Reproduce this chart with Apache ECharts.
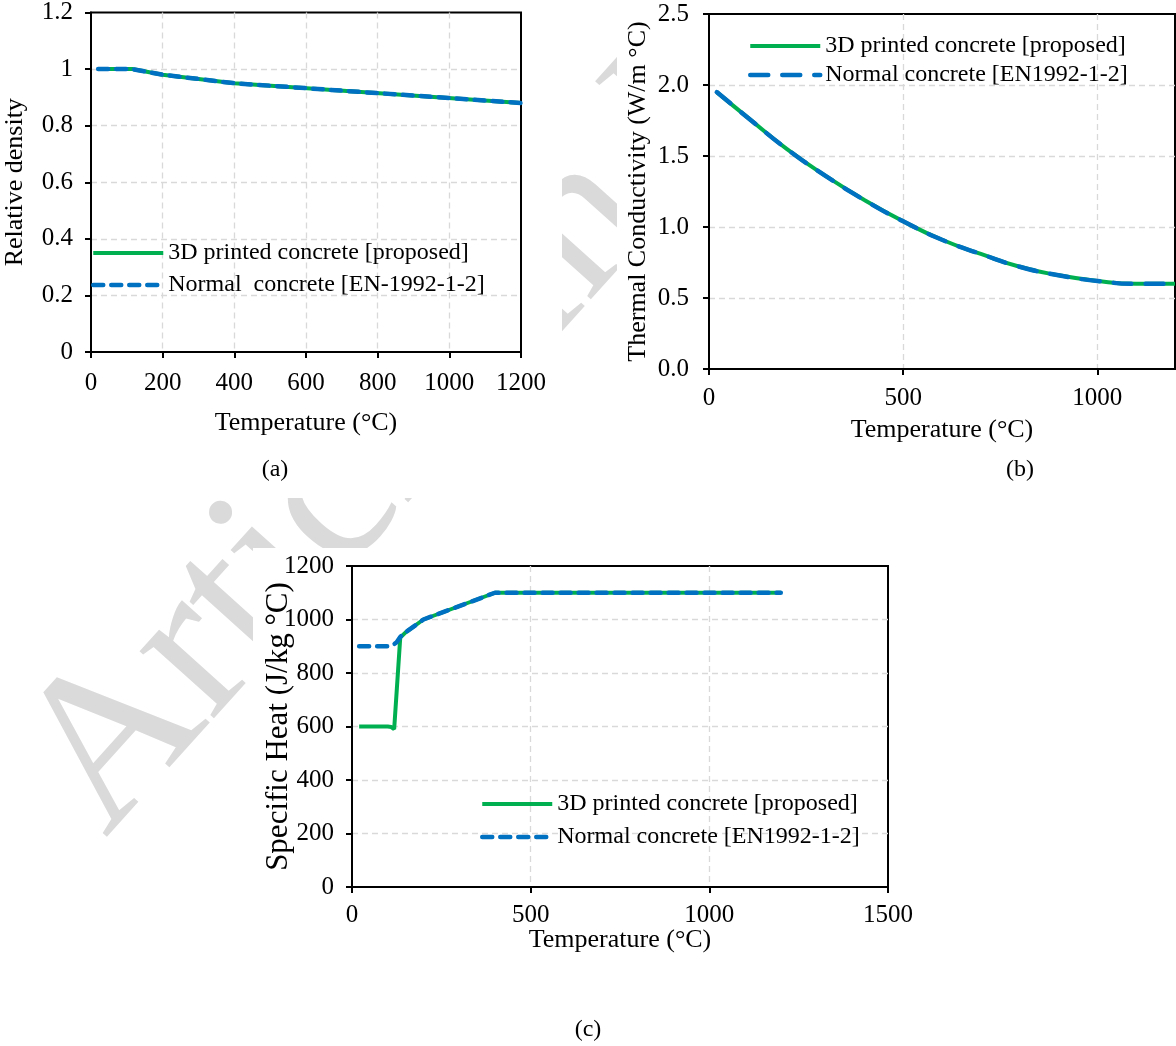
<!DOCTYPE html>
<html>
<head>
<meta charset="utf-8">
<script src="https://cdn.jsdelivr.net/npm/echarts@6/dist/echarts.min.js"></script>
<style>
html,body{margin:0;padding:0;background:#fff;}
#chart{width:1176px;height:1046px;}
</style>
</head>
<body>
<div id="chart"></div>
<script>
// ---------- data ----------
const NAME_3D = '3D printed concrete [proposed]';
const NAME_NC_A = 'Normal  concrete [EN-1992-1-2]';
const NAME_NC = 'Normal concrete [EN1992-1-2]';

// (a) relative density
const densityTemp = [20, 115, 200, 400, 1200];
const density3D   = [1.0, 1.0, 0.98, 0.95, 0.88];
const densityNC   = [1.0, 1.0, 0.98, 0.95, 0.88];

// (b) thermal conductivity
const condTemp = [20, 100, 200, 300, 400, 500, 600, 700, 800, 900, 1000, 1100, 1200];
const cond3D   = [1.95, 1.77, 1.55, 1.36, 1.19, 1.04, 0.91, 0.81, 0.72, 0.66, 0.62, 0.60, 0.60];
const condNC   = [1.95, 1.77, 1.55, 1.36, 1.19, 1.04, 0.91, 0.81, 0.72, 0.66, 0.62, 0.60, 0.60];

// (c) specific heat
const heatTemp3D = [20, 100, 110, 118, 135, 150, 200, 400, 1200];
const heat3D     = [600, 600, 598, 590, 932, 952, 1000, 1100, 1100];
const heatTempNC = [20, 100, 115, 125, 135, 150, 200, 400, 1200];
const heatNC     = [900, 900, 905, 915, 935, 952, 1000, 1100, 1100];

// tick settings
const xTicksA = {min: 0, max: 1200, interval: 200};
const yTicksA = {min: 0, max: 1.2, interval: 0.2};
const xTicksB = {min: 0, max: 1200, interval: 500};
const yTicksB = {min: 0, max: 2.5, interval: 0.5};
const xTicksC = {min: 0, max: 1500, interval: 500};
const yTicksC = {min: 0, max: 1200, interval: 200};

// ---------- styling ----------
const FONT = '"Liberation Serif", "Times New Roman", serif';
const GREEN = '#00B050';
const BLUE = '#0070C0';
const zip = (xs, ys) => xs.map((x, i) => [x, ys[i]]);
const plain = v => String(+v.toFixed(4));

function axis(gridIndex, ticks, name, nameGap, extra) {
  const e = extra || {};
  return {
    type: 'value',
    gridIndex: gridIndex,
    min: ticks.min, max: ticks.max, interval: ticks.interval,
    name: name,
    nameLocation: 'middle',
    nameGap: nameGap,
    nameMoveOverlap: false,
    nameTextStyle: {fontFamily: FONT, fontSize: e.nameSize || 26, color: '#000'},
    axisLine: {show: true, onZero: false, lineStyle: {color: '#000', width: 2}},
    axisTick: {show: true, inside: false, length: 6, lineStyle: {color: '#000', width: 2}},
    axisLabel: {fontFamily: FONT, fontSize: e.labelSize || 25, color: '#000', margin: e.margin || 14,
                showMaxLabel: e.showMaxLabel === false ? false : true,
                formatter: e.formatter || plain},
    splitLine: {show: true, showMinLine: false, showMaxLine: false,
                lineStyle: {color: '#d9d9d9', width: 1.3, type: [6, 4]}}
  };
}

function greenSeries(name, xi, data, smooth) {
  return {type: 'line', name: name, xAxisIndex: xi, yAxisIndex: xi, data: data,
    symbol: 'none', smooth: smooth || false, z: 2, silent: true,
    lineStyle: {color: GREEN, width: 4}, itemStyle: {color: GREEN}};
}
function blueSeries(name, xi, data, dash, cap, smooth) {
  return {type: 'line', name: name, xAxisIndex: xi, yAxisIndex: xi, data: data,
    symbol: 'none', smooth: smooth || false, z: 3, silent: true,
    lineStyle: {color: BLUE, width: 4.5, type: dash, cap: cap}, itemStyle: {color: BLUE}};
}

function legend(left, top, gap, ncName, dash, cap) {
  return {
    orient: 'vertical', left: left, top: top, padding: 0,
    itemWidth: 70, itemHeight: 14, itemGap: gap, selectedMode: false,
    textStyle: {fontFamily: FONT, fontSize: 24, color: '#000'},
    itemStyle: {opacity: 0},
    data: [
      {name: NAME_3D, lineStyle: {color: GREEN, width: 4, type: 'solid'}},
      {name: ncName, lineStyle: {color: BLUE, width: 4.5, type: dash, cap: cap}}
    ]
  };
}

const DASH_A = [10, 8];
const DASH_B = [18, 14];

const chart = echarts.init(document.getElementById('chart'), null, {renderer: 'canvas'});
const option = {
  animation: false,
  backgroundColor: '#fff',
  textStyle: {fontFamily: FONT, color: '#000'},
  graphic: [
    {type: 'text', x: 144, y: 873, rotation: 48 * Math.PI / 180, z: -10, silent: true,
     style: {text: 'Article in Press', font: 'normal 218px "Liberation Serif"', fill: '#dadada',
             textAlign: 'left', textVerticalAlign: 'bottom'}},
    {type: 'rect', z: -5, silent: true, shape: {x: 0, y: 0, width: 562, height: 498}, style: {fill: '#fff'}},
    {type: 'rect', z: -5, silent: true, shape: {x: 617, y: 0, width: 559, height: 498}, style: {fill: '#fff'}},
    {type: 'rect', z: -5, silent: true, shape: {x: 253, y: 548, width: 660, height: 455}, style: {fill: '#fff'}},
    {type: 'text', x: 275, y: 470, z: 5, style: {text: '(a)', font: '24px "Liberation Serif"', fill: '#000', textAlign: 'center', textVerticalAlign: 'middle'}},
    {type: 'text', x: 1020, y: 470, z: 5, style: {text: '(b)', font: '24px "Liberation Serif"', fill: '#000', textAlign: 'center', textVerticalAlign: 'middle'}},
    {type: 'text', x: 588, y: 1030, z: 5, style: {text: '(c)', font: '24px "Liberation Serif"', fill: '#000', textAlign: 'center', textVerticalAlign: 'middle'}}
  ],
  grid: [
    {left: 91, top: 12, width: 430, height: 340, show: true, borderColor: '#000', borderWidth: 2, backgroundColor: 'rgba(0,0,0,0)'},
    {left: 709, top: 14, width: 466, height: 355, show: true, borderColor: '#000', borderWidth: 2, backgroundColor: 'rgba(0,0,0,0)'},
    {left: 352, top: 566, width: 536, height: 321, show: true, borderColor: '#000', borderWidth: 2, backgroundColor: 'rgba(0,0,0,0)'}
  ],
  xAxis: [
    axis(0, xTicksA, 'Temperature (°C)', 58, {margin: 19}),
    axis(1, xTicksB, 'Temperature (°C)', 48, {margin: 17, showMaxLabel: false}),
    axis(2, xTicksC, 'Temperature (°C)', 40, {margin: 16})
  ],
  yAxis: [
    axis(0, yTicksA, 'Relative density', 63, {margin: 18}),
    axis(1, yTicksB, 'Thermal Conductivity (W/m °C)', 58, {margin: 20, formatter: v => v.toFixed(1)}),
    axis(2, yTicksC, 'Specific Heat (J/kg °C)', 58, {margin: 18, nameSize: 31})
  ],
  legend: [
    legend(91, 241, 8, NAME_NC_A, DASH_A, 'round'),
    legend(748, 34, 5, NAME_NC, DASH_B, 'round'),
    legend(480, 792, 9, NAME_NC, DASH_A, 'round')
  ],
  series: [
    greenSeries(NAME_3D, 0, zip(densityTemp, density3D)),
    blueSeries(NAME_NC_A, 0, zip(densityTemp, densityNC), DASH_A, 'round'),
    greenSeries(NAME_3D, 1, zip(condTemp, cond3D), true),
    blueSeries(NAME_NC, 1, zip(condTemp, condNC), DASH_B, 'round', true),
    greenSeries(NAME_3D, 2, zip(heatTemp3D, heat3D)),
    blueSeries(NAME_NC, 2, zip(heatTempNC, heatNC), DASH_A, 'round')
  ]
};
chart.setOption(option);
</script>
</body>
</html>
